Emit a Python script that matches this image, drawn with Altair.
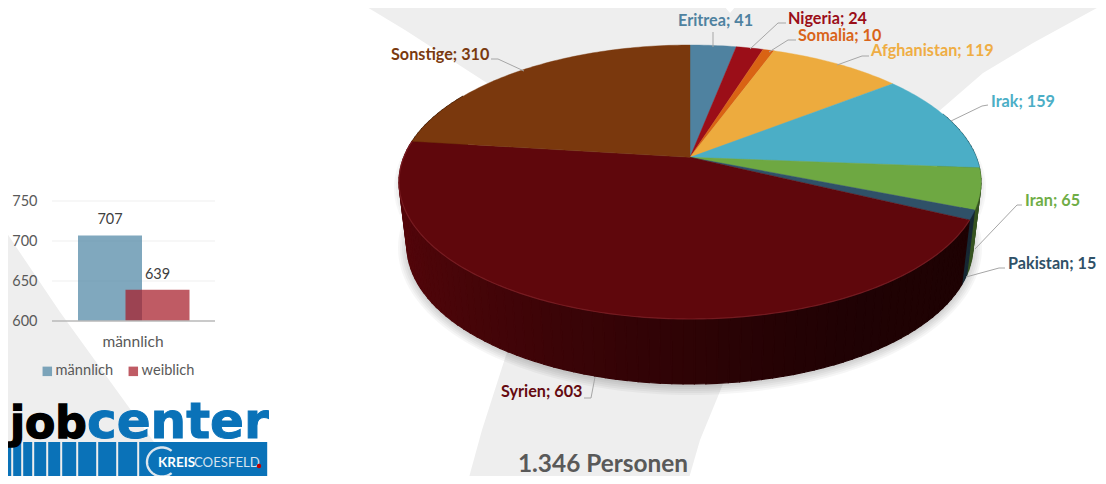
import math
import altair as alt
import pandas as pd

# ---- data ----
slices = ["Eritrea", "Nigeria", "Somalia", "Afghanistan", "Irak", "Iran", "Pakistan", "Syrien", "Sonstige"]
persons = [41, 24, 10, 119, 159, 65, 15, 603, 310]
slice_colors = ["#4f82a0", "#9b0e18", "#d96314", "#edab3e", "#4baec6", "#6ea842", "#2f5168", "#5f070c", "#7a380d"]
label_colors = ["#4f82a0", "#9b0e18", "#d9641a", "#efad44", "#4baec6", "#6fad46", "#2f5168", "#650a10", "#7a3a10"]
gender = ["männlich", "weiblich"]
gender_values = [707, 639]
gender_colors = ["#4f86a5", "#a61c28"]
y_ticks = [600, 650, 700, 750]
total_label = "1.346 Personen"

OX, OY = 8, 8  # page margin
CX, CY, RX, RY, HUB = 690, 182, 291, 137, 0.18  # pie top face
LOW_CY, LOW_RX, LOW_RY = 246, 283, 138  # pie bottom edge


def unit(theta):
    X, Y = math.sin(theta), math.cos(theta)
    d = 1 + HUB * Y
    return X * math.sqrt(1 - HUB * HUB) / d, (Y + HUB) / d


def top(theta):
    u, v = unit(theta)
    return [CX + RX * u, CY - RY * v]


def low(theta):
    u, v = unit(theta)
    return [CX + LOW_RX * u, LOW_CY - LOW_RY * v]


def feat(kind, coords, color):
    return {"type": "Feature", "properties": {"color": color},
            "geometry": {"type": kind, "coordinates": coords}}


def poly(points, color):
    pts = [list(p) for p in points]
    return feat("Polygon", [pts + [pts[0]]], color)


def line(points, color):
    return feat("LineString", [list(p) for p in points], color)


def shade(hex_color, k):
    r, g, b = (int(hex_color[i:i + 2], 16) for i in (1, 3, 5))
    return "#%02x%02x%02x" % (int(r * k), int(g * k), int(b * k))


def geo(features, **mark):
    return alt.Chart(alt.Data(values=features)).mark_geoshape(**mark).encode(
        fill=alt.Fill("properties.color:N", scale=None, legend=None),
        stroke=alt.Stroke("properties.color:N", scale=None, legend=None),
    ).project(type="identity", scale=1, translate=[-OX, -OY])


def geo_line(features, width=1.0, opacity=1.0):
    return alt.Chart(alt.Data(values=features)).mark_geoshape(
        filled=False, strokeWidth=width, strokeOpacity=opacity
    ).encode(
        stroke=alt.Stroke("properties.color:N", scale=None, legend=None),
    ).project(type="identity", scale=1, translate=[-OX, -OY])


# ---- background swooshes ----
BG = "#eeeeee"
background = geo([
    poly([(342, -8), (405, 30), (487, 83), (690, 200), (938, 112), (983, 73), (1033, 43), (1106, 3),
          (1114, 0), (1114, -8), (748, -8), (730, 13), (712, -8)], BG),
    poly([(520, 300), (507, 352), (482, 430), (465, 492), (685, 492), (700, 440), (723, 384), (760, 300)], BG),
    poly([(-8, 212), (0, 223), (60, 312), (133, 413), (190, 492), (-8, 492)], BG),
], strokeWidth=0)

# ---- pie geometry from the values ----
total = sum(persons)
bounds = [0.0]
for v in persons:
    bounds.append(bounds[-1] + v / total * 2 * math.pi)

hub = [CX, CY - RY * HUB]

# shadow
shadow_feats = []
for k in (9, 7, 5, 3, 1):
    pts = [[CX + (LOW_RX + k) * math.sin(a / 90 * math.pi),
            LOW_CY + 2 - (LOW_RY + k) * math.cos(a / 90 * math.pi)] for a in range(180)]
    shadow_feats.append(poly(pts, "#000000"))
shadow = geo(shadow_feats, opacity=0.035, strokeWidth=0)

upper_shadow = []
for k in (7, 5, 3):
    pts = [[CX + (RX + k - 2) * math.sin(a / 90 * math.pi),
            CY + 6 - (RY + 1) * math.cos(a / 90 * math.pi)] for a in range(180)]
    upper_shadow.append(poly(pts, "#000000"))
shadow2 = geo(upper_shadow, opacity=0.03, strokeWidth=0)

# side wall: lighter to the left, near black to the right
side_feats = []
N = 120
start, end = math.radians(70), math.radians(300)
for i in range(N):
    a, b = start + (end - start) * i / N, start + (end - start) * (i + 1) / N
    mid = (a + b) / 2
    idx = next((j for j in range(len(persons)) if bounds[j] <= mid < bounds[j + 1]), 0)
    x = top(mid)[0]
    t = max(0.0, min(1.0, (x - 400) / 580))
    if slices[idx] == "Syrien":
        k = 0.88 - 0.48 * min(1.0, t * 1.3) ** 0.7 - 0.08 * t
    else:
        k = 0.5
    side_feats.append(poly([top(a), top(b), low(b), low(a)], shade(slice_colors[idx], max(k, 0.3))))
side = geo(side_feats, strokeWidth=1.2)

# top face
face_feats = []
for i, c in enumerate(slice_colors):
    a, b = bounds[i], bounds[i + 1]
    n = max(2, int((b - a) / math.radians(1)))
    pts = [hub] + [top(a + (b - a) * j / n) for j in range(n + 1)]
    face_feats.append(poly(pts, c))
face = geo(face_feats, strokeWidth=0.4)

# bevel along the front rim
syr = bounds[slices.index("Syrien")], bounds[slices.index("Syrien") + 1]
rim_pts = [top(syr[0] + (syr[1] - syr[0]) * j / 200) for j in range(201)]
rim = geo_line([line(rim_pts, "#8a2a30")], width=1.2, opacity=0.6)

# ---- leader lines ----
LINE = "#a6a6a6"
leaders = geo_line([
    line([(713, 32), (713, 47)], LINE),
    line([(786, 23), (778, 23), (750, 49)], LINE),
    line([(796, 40), (788, 40), (769, 52)], LINE),
    line([(869, 56), (862, 56), (837, 65)], LINE),
    line([(988, 105), (982, 106), (951, 121)], LINE),
    line([(1022, 205), (1017, 205), (975, 249)], LINE),
    line([(1005, 268), (999, 268), (966, 277)], LINE),
    line([(491, 59), (498, 59), (524, 71)], LINE),
    line([(584, 398), (591, 398), (595, 377)], LINE),
], width=1)

# ---- pie labels ----
label_x = [678, 788, 798, 871, 991, 1025, 1008, 501, 391]
label_y = [21, 19, 36, 51, 102, 201, 264, 392, 55]
label_df = pd.DataFrame({
    "x": [v - OX for v in label_x],
    "y": [v - OY for v in label_y],
    "t": [f"{s}; {v}" for s, v in zip(slices, persons)],
    "c": label_colors,
})
XPX = alt.X("x:Q", scale=None, axis=None)
YPX = alt.Y("y:Q", scale=None, axis=None)
pie_labels = alt.Chart(label_df).mark_text(
    font="Lato", fontWeight="bold", fontSize=16.2, align="left", baseline="middle"
).encode(x=XPX, y=YPX, text="t:N", color=alt.Color("c:N", scale=None, legend=None))

total_text = alt.Chart(pd.DataFrame({"x": [603 - OX], "y": [465 - OY], "t": [total_label]})).mark_text(
    font="Lato", fontWeight="bold", fontSize=24.4, align="center", baseline="middle", color="#595959"
).encode(x=XPX, y=YPX, text="t:N")

# ---- small bar chart ----
bar_df = pd.DataFrame({"g": gender, "v": gender_values})
grid_df = pd.DataFrame({"v": y_ticks})
YS = alt.Scale(domain=[600, 750], range=[321 - OY, 201 - OY], clamp=True)
XS = alt.Scale(type="point", domain=gender, range=[110 - OX, 157.5 - OX], padding=0)

grid = alt.Chart(grid_df[grid_df.v > 600]).mark_rule(color="#efefef", strokeWidth=1).encode(
    y=alt.Y("v:Q", scale=YS, axis=alt.Axis(
        values=y_ticks, orient="left", offset=-37, grid=False, domain=False, ticks=False, zindex=1,
        labelPadding=8, labelFontSize=14.5, labelColor="#595959", labelFont="Lato", title=None)),
    x=alt.value(52 - OX), x2=alt.value(215 - OX),
)
bars = alt.Chart(bar_df).mark_bar(size=64, opacity=0.72).encode(
    x=alt.X("g:N", scale=XS, axis=None),
    y=alt.Y("v:Q", scale=YS, axis=None, stack=None),
    color=alt.Color("g:N", scale=alt.Scale(domain=gender, range=gender_colors), legend=alt.Legend(
        orient="none", legendX=40 - OX, legendY=364 - OY, direction="horizontal", title=None,
        symbolType="square", symbolSize=90, labelFontSize=14.6, labelColor="#595959", labelFont="Lato",
        columnPadding=12, labelOffset=1, symbolStrokeWidth=0)),
)
base_line = alt.Chart(pd.DataFrame({"v": [600]})).mark_rule(color="#b9b9b9", strokeWidth=1.5).encode(
    y=alt.Y("v:Q", scale=YS, axis=None),
    x=alt.value(52 - OX), x2=alt.value(215 - OX),
)
bar_text = alt.Chart(bar_df).mark_text(
    font="Lato", fontSize=14.5, color="#404040", dy=-15, baseline="middle"
).encode(
    x=alt.X("g:N", scale=XS, axis=None),
    y=alt.Y("v:Q", scale=YS, axis=None, stack=None),
    text="v:Q",
)
cat_text = alt.Chart(pd.DataFrame({"x": [133 - OX], "y": [342 - OY], "t": [gender[0]]})).mark_text(
    font="Lato", fontSize=15.5, color="#595959", baseline="middle"
).encode(x=XPX, y=YPX, text="t:N")

# ---- logo ----
BLUE = "#0a72b8"
edges = [0, 12, 22, 33, 47, 61, 77, 97, 117, 138, 268]
logo_bars = geo([
    poly([(a + (1.2 if a else 0), 442), (b - 0.8, 442), (b - 0.8, 483), (a + (1.2 if a else 0), 483)], BLUE)
    for a, b in zip(edges[:-1], edges[1:])
], strokeWidth=0)
arc_pts = [[162 + 15 * math.cos(math.radians(d)), 462 + 14.5 * math.sin(math.radians(d))] for d in range(50, 311, 5)]
logo_arc = geo_line([line(arc_pts, "#dde6ee")], width=2.4)
logo_dot = alt.Chart(pd.DataFrame({"x": [259 - OX], "y": [466 - OY]})).mark_point(
    filled=True, color="#c00000", size=20, opacity=1).encode(x=XPX, y=YPX)


def logo_text(x, y, t, color, font, size, weight, stroke=0.0):
    return alt.Chart(pd.DataFrame({"x": [x - OX], "y": [y - OY], "t": [t]})).mark_text(
        font=font, fontSize=size, fontWeight=weight, color=color, align="left", baseline="alphabetic",
        stroke=color, strokeWidth=stroke,
    ).encode(x=XPX, y=YPX, text="t:N")


logo_job = logo_text(10, 438, "job", "#000000", "DejaVu Sans", 44, "bold", 1.4)
logo_center = logo_text(87, 438, "center", BLUE, "DejaVu Sans", 50, "bold", 1.0)
logo_kreis = logo_text(158, 467, "KREIS", "#ffffff", "Lato", 13.5, "bold")
logo_coes = logo_text(194, 467, "COESFELD", "#d5e3ef", "Lato", 13.2, "normal")

chart = alt.layer(
    background, grid, bars, base_line, bar_text, cat_text,
    shadow, shadow2, side, face, rim, leaders, pie_labels, total_text,
    logo_bars, logo_job, logo_center, logo_arc, logo_kreis, logo_coes, logo_dot,
).resolve_scale(x="independent", y="independent", color="independent").properties(
    width=1090, height=468, padding=0, autosize=alt.AutoSizeParams(type="none"),
    background="white",
).configure_view(stroke=None)

chart.save("out.html", embed_options={"renderer": "svg", "actions": False})
